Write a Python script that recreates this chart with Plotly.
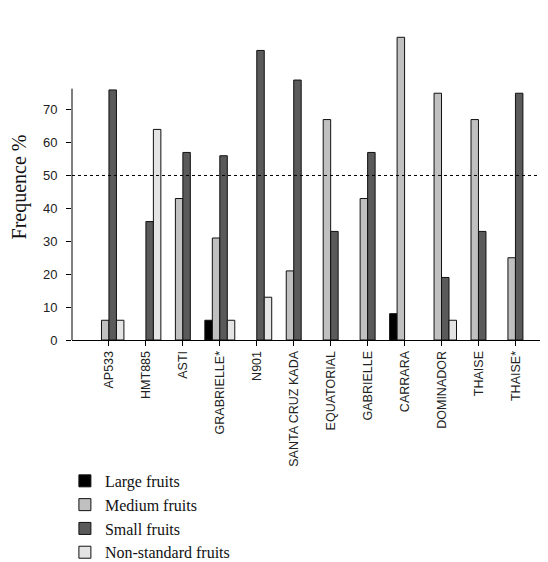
import plotly.graph_objects as go

categories = ["AP533", "HMT885", "ASTI", "GRABRIELLE*", "N901", "SANTA CRUZ KADA",
              "EQUATORIAL", "GABRIELLE", "CARRARA", "DOMINADOR", "THAISE", "THAISE*"]
large_fruits = [0, 0, 0, 6, 0, 0, 0, 0, 8, 0, 0, 0]
medium_fruits = [6, 0, 43, 31, 0, 21, 67, 43, 92, 75, 67, 25]
small_fruits = [76, 36, 57, 56, 88, 79, 33, 57, 0, 19, 33, 75]
nonstandard_fruits = [6, 64, 0, 6, 13, 0, 0, 0, 0, 6, 0, 0]
y_ticks = [0, 10, 20, 30, 40, 50, 60, 70]
reference_level = 50

series = [
    ("Large fruits", large_fruits, "#000000"),
    ("Medium fruits", medium_fruits, "#c0c0c0"),
    ("Small fruits", small_fruits, "#5a5a5a"),
    ("Non-standard fruits", nonstandard_fruits, "#e4e4e4"),
]

fig = go.Figure()
for name, vals, col in series:
    fig.add_trace(go.Bar(
        x=categories, y=[v if v else None for v in vals], name=name,
        marker=dict(color=col, line=dict(color="#111111", width=1)),
    ))

fig.add_hline(y=reference_level, line=dict(color="#000000", width=1, dash="dot"))
# y axis line (stops below the top of the plotting area, as in the original)
fig.add_shape(type="line", xref="paper", x0=0, x1=0, yref="y", y0=0, y1=76.4,
              line=dict(color="#000000", width=1))

fig.update_layout(
    width=548, height=562,
    paper_bgcolor="white", plot_bgcolor="white",
    barmode="group", bargap=0.19, bargroupgap=0,
    margin=dict(l=64, r=11, t=26, b=230, autoexpand=False),
    font=dict(family="Liberation Sans, Arial", color="#222222"),
    showlegend=True,
    legend=dict(
        x=-0.015, y=-0.405, xanchor="left", yanchor="top",
        font=dict(family="Liberation Serif, Times New Roman", size=16, color="#111111"),
        bgcolor="rgba(0,0,0,0)", tracegroupgap=0,
    ),
    xaxis=dict(
        type="category", range=[-1.0, 11.8],
        showline=True, linecolor="#000000", linewidth=1,
        ticks="outside", ticklen=5, tickcolor="#000000",
        tickangle=-90, tickfont=dict(size=12.5, family="Liberation Sans, Arial"),
        showgrid=False, zeroline=False,
    ),
    yaxis=dict(
        range=[0, 93], tickvals=y_ticks, showline=False,
        showgrid=False, zeroline=False,
        ticks="outside", ticklen=5, tickcolor="#000000",
        tickfont=dict(size=13, family="Liberation Sans, Arial"),
        ticklabelstandoff=6,
        title=dict(text="Frequence %", standoff=10,
                   font=dict(family="Liberation Serif, Times New Roman", size=20, color="#111111")),
    ),
)

fig.write_html("out.html")
